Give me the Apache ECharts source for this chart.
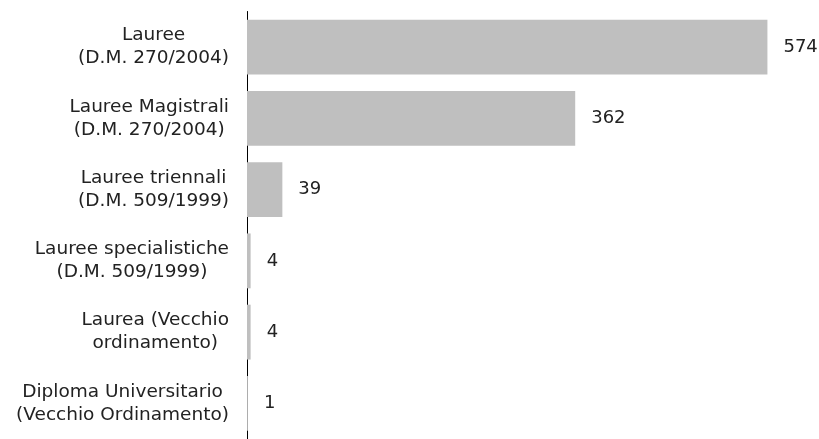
<!DOCTYPE html>
<html><head><meta charset="utf-8">
<script src="https://cdn.jsdelivr.net/npm/echarts@6/dist/echarts.min.js"></script>
<style>html,body{margin:0;padding:0;background:#fff}#c{width:819px;height:439px}</style>
</head><body><div id="c"></div>
<script>
const categories = [
  "Lauree\n(D.M. 270/2004)",
  "Lauree Magistrali\n(D.M. 270/2004)",
  "Lauree triennali\n(D.M. 509/1999)",
  "Lauree specialistiche\n(D.M. 509/1999)",
  "Laurea (Vecchio\nordinamento)",
  "Diploma Universitario\n(Vecchio Ordinamento)"
];
const values = [574, 362, 39, 4, 4, 1];

const chart = echarts.init(document.getElementById('c'));
chart.setOption({
  animation: false,
  grid: { left: 247, right: 28, top: 11.5, bottom: -4.5, containLabel: false },
  xAxis: { type: 'value', min: 0, max: 600, show: false },
  yAxis: {
    type: 'category', data: categories, inverse: true,
    axisLine: { show: true, lineStyle: { color: '#000', width: 1 } },
    axisTick: { show: false },
    axisLabel: {
      margin: 18, align: 'right',
      formatter: v => v.split('\n').map(s => '{a|' + s + '}').join('\n'),
      rich: { a: { fontFamily: 'DejaVu Sans', fontSize: 18.5, color: '#222', lineHeight: 23, align: 'center' } }
    }
  },
  series: [{
    type: 'bar', data: values, barCategoryGap: '23%',
    itemStyle: { color: '#bfbfbf' },
    label: { show: true, position: 'right', distance: 16, fontFamily: 'DejaVu Sans', fontSize: 18, color: '#222' }
  }]
});
</script></body></html>
